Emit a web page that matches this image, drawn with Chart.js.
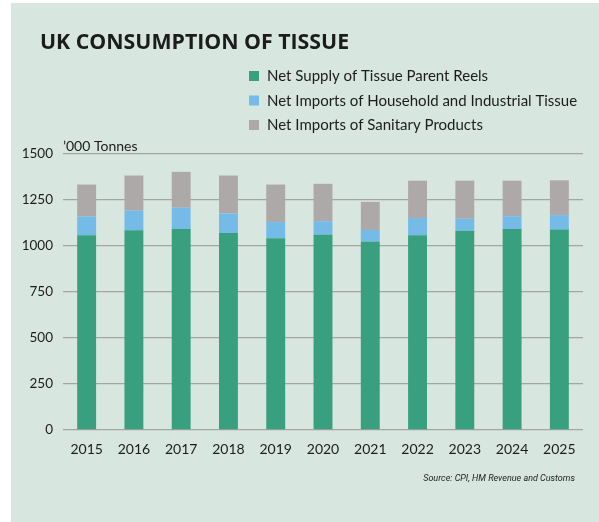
<!DOCTYPE html>
<html>
<head>
<meta charset="utf-8">
<title>UK Consumption of Tissue</title>
<script src="https://cdn.jsdelivr.net/npm/chart.js@4/dist/chart.umd.min.js"></script>
<style>
  html, body { margin: 0; padding: 0; background: #ffffff; }
  #wrap { width: 599px; height: 522px; }
</style>
</head>
<body>
<div id="wrap"><canvas id="tissueChart" width="599" height="522"></canvas></div>
<script>
// '000 tonnes per year, stacked bottom to top
const years = ["2015", "2016", "2017", "2018", "2019", "2020", "2021", "2022", "2023", "2024", "2025"];
const parentReels = [1058, 1085, 1092, 1070, 1042, 1063, 1025, 1058, 1083, 1092, 1089];
const householdImports = [103, 107, 116, 107, 88, 72, 62, 94, 65, 70, 79];
const sanitaryImports = [173, 191, 195, 206, 204, 203, 153, 203, 207, 193, 189];
const yTicks = [0, 250, 500, 750, 1000, 1250, 1500];

const seriesNames = [
  "Net Supply of Tissue Parent Reels",
  "Net Imports of Household and Industrial Tissue",
  "Net Imports of Sanitary Products"
];
const seriesColors = ["#38a07f", "#75bbe8", "#ada9a8"];

const PANEL = "#d7e6df";
const INK = "#1c1c1c";
const BODY_FONT = "Lato, 'Open Sans', sans-serif";

// background panel, heading, legend and notes drawn straight on the canvas
const panelText = {
  id: "panelText",
  beforeDraw(chart) {
    const ctx = chart.ctx;
    ctx.save();
    ctx.fillStyle = PANEL;
    ctx.fillRect(11, 3, chart.width - 11, chart.height - 3);
    ctx.restore();
  },
  afterDraw(chart) {
    const ctx = chart.ctx;
    ctx.save();
    ctx.fillStyle = INK;
    ctx.textBaseline = "alphabetic";
    ctx.textAlign = "left";
    ctx.font = "bold 21.3px 'Open Sans', sans-serif";
    ctx.fillText("UK CONSUMPTION OF TISSUE", 40, 49);

    const rows = [76, 100.5, 125];
    chart.data.datasets.forEach((ds, i) => {
      ctx.fillStyle = ds.backgroundColor;
      ctx.fillRect(249, rows[i] - 5, 10, 10);
      ctx.fillStyle = INK;
      ctx.font = "15px " + BODY_FONT;
      ctx.textBaseline = "middle";
      ctx.fillText(ds.label, 267, rows[i] + 0.5);
    });

    ctx.textBaseline = "alphabetic";
    ctx.font = "14px " + BODY_FONT;
    ctx.fillText("\u2019000 Tonnes", chart.chartArea.left, 151);

    ctx.font = "italic 9px 'Liberation Sans Narrow', Roboto, sans-serif";
    ctx.textAlign = "right";
    ctx.textBaseline = "middle";
    ctx.fillText("Source: CPI, HM Revenue and Customs", 575, 479);
    ctx.restore();
  }
};

const chartData = {
  labels: years,
  datasets: [parentReels, householdImports, sanitaryImports].map((values, i) => ({
    label: seriesNames[i],
    data: values,
    backgroundColor: seriesColors[i],
    borderWidth: 0,
    barPercentage: 0.4,
    categoryPercentage: 1
  }))
};

new Chart(document.getElementById("tissueChart"), {
  type: "bar",
  data: chartData,
  options: {
    responsive: false,
    animation: false,
    layout: { padding: { left: 0, right: 16, top: 154, bottom: 52 } },
    plugins: {
      legend: { display: false },
      title: { display: false },
      tooltip: { enabled: false }
    },
    scales: {
      x: {
        stacked: true,
        grid: { display: false, drawTicks: false },
        border: { display: false },
        ticks: { color: INK, padding: 11, font: { family: BODY_FONT, size: 14 } },
        afterFit(scale) { scale.height = 40; }
      },
      y: {
        stacked: true,
        min: 0,
        max: 1500,
        afterBuildTicks(scale) { scale.ticks = yTicks.map(v => ({ value: v })); },
        grid: { color: "#a5a5a3", lineWidth: 1.3, drawTicks: false },
        border: { display: false },
        ticks: {
          color: INK,
          padding: 10,
          font: { family: BODY_FONT, size: 13.5 },
          callback: v => String(v)
        },
        afterFit(scale) { scale.width = 63; }
      }
    }
  },
  plugins: [panelText]
});
</script>
</body>
</html>
